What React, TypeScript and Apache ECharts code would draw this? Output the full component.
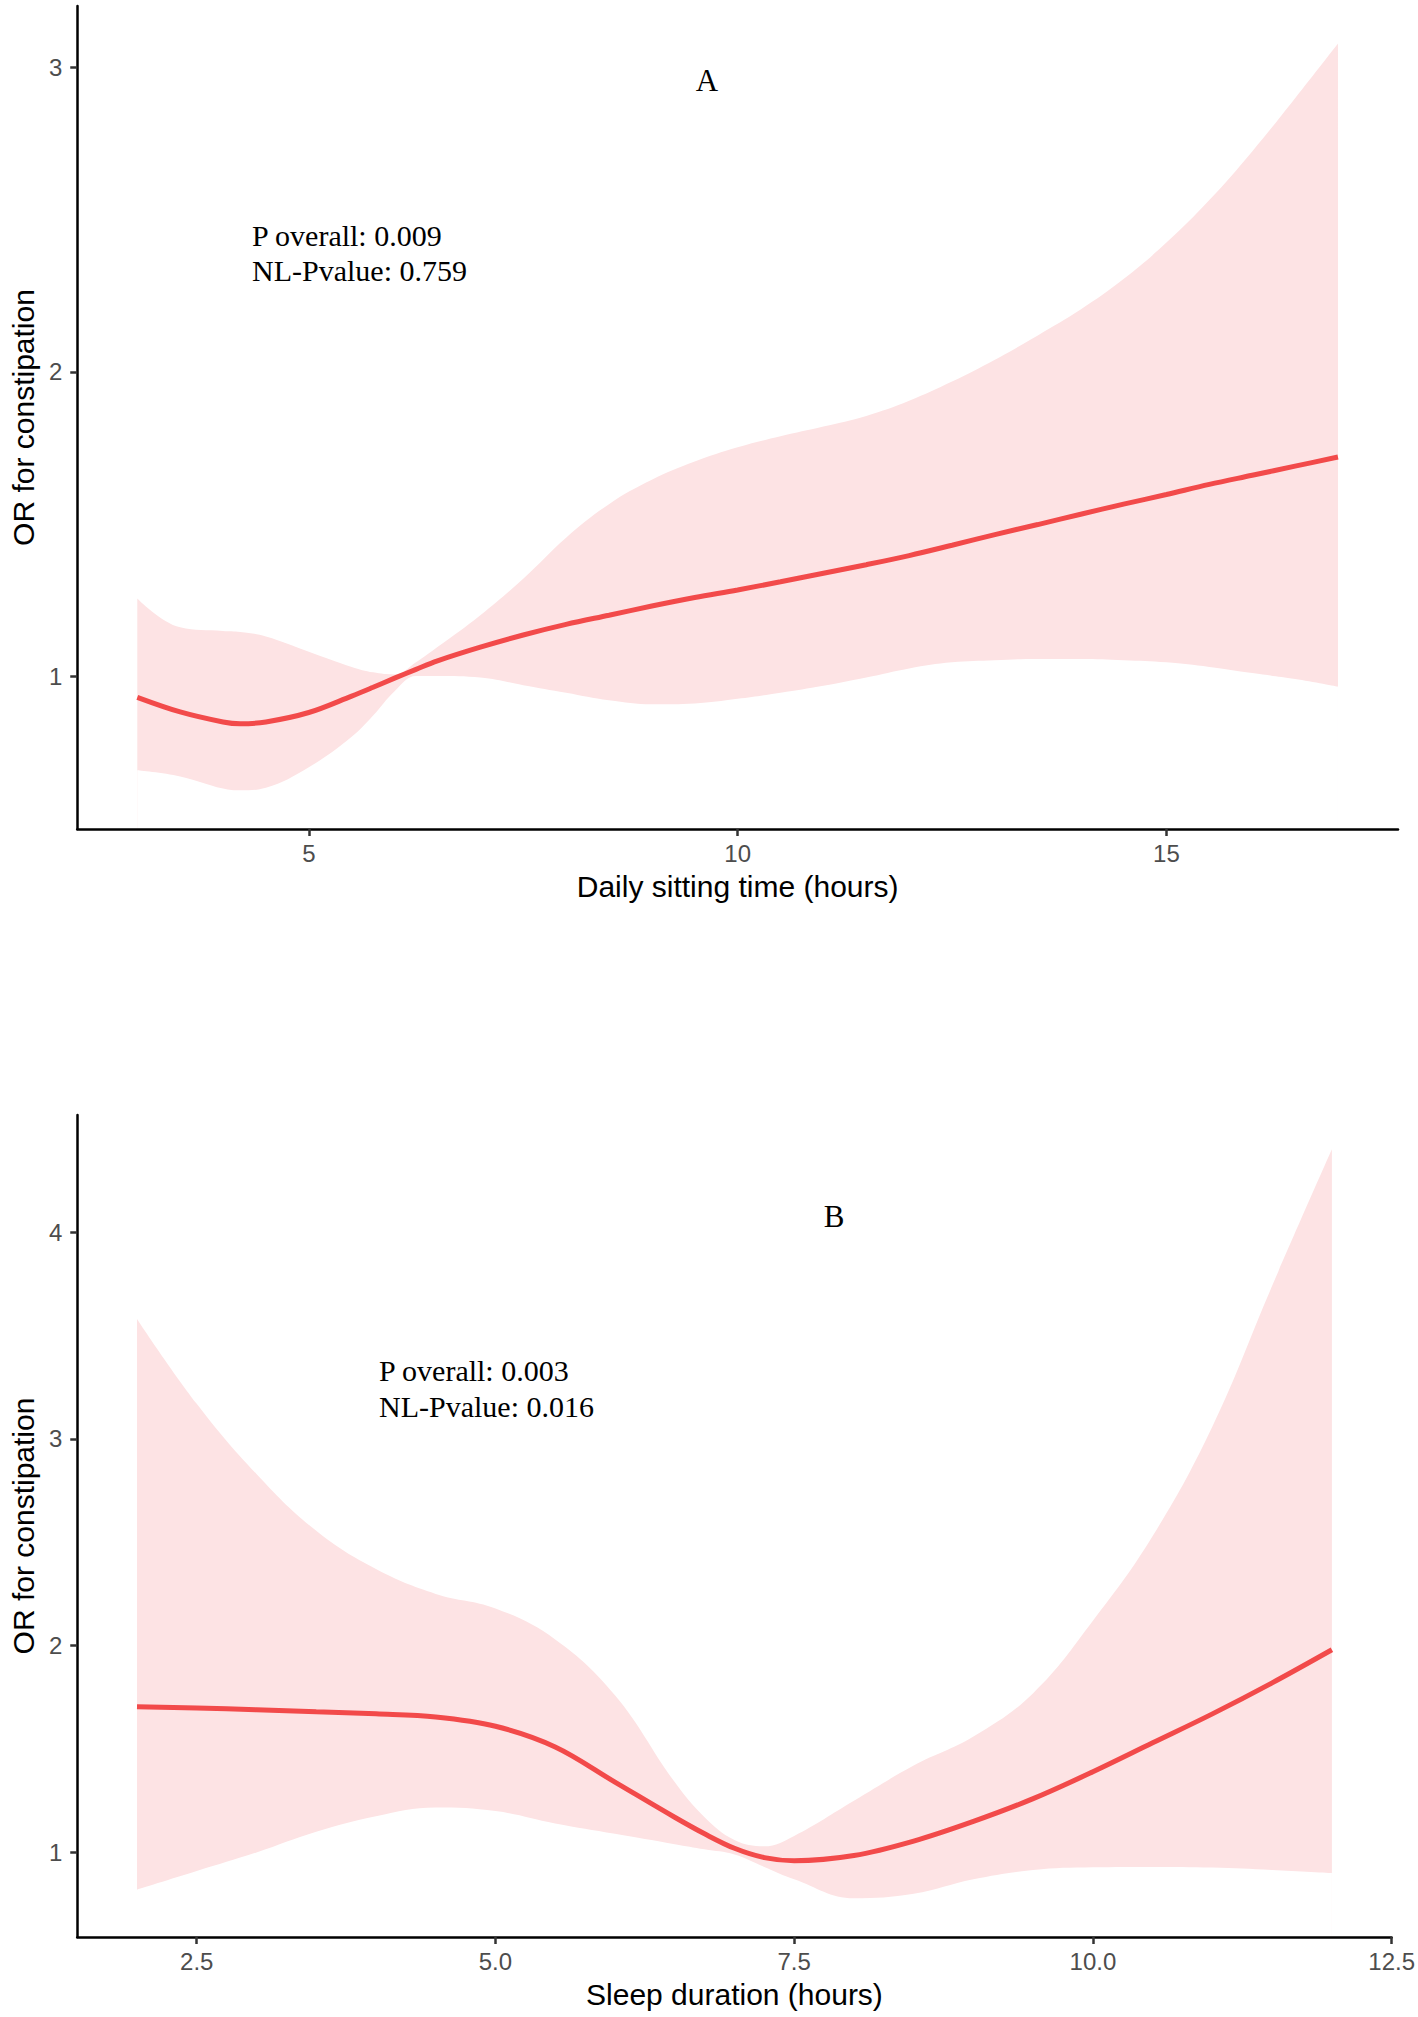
import React, { useEffect, useRef } from "react";
import * as echarts from "echarts";

// Panel A: daily sitting time
const sitX = [3, 3.5, 4, 4.2, 4.5, 5, 5.5, 5.75, 6, 6.25, 6.5, 7, 7.5, 8, 8.5, 9, 9.5, 10, 10.5, 11, 11.5, 12, 12.5, 13, 13.5, 14, 14.5, 15, 15.5, 16, 16.5, 17];
const sitOR = [0.93, 0.882, 0.849, 0.843, 0.849, 0.88, 0.934, 0.963, 0.993, 1.022, 1.05, 1.095, 1.135, 1.17, 1.2, 1.23, 1.258, 1.283, 1.31, 1.338, 1.366, 1.396, 1.43, 1.465, 1.498, 1.532, 1.565, 1.597, 1.63, 1.66, 1.69, 1.72];
const sitUpper = [1.255, 1.16, 1.148, 1.145, 1.13, 1.08, 1.03, 1.012, 1.005, 1.045, 1.095, 1.2, 1.32, 1.455, 1.565, 1.645, 1.705, 1.752, 1.788, 1.82, 1.855, 1.905, 1.968, 2.04, 2.12, 2.205, 2.305, 2.425, 2.565, 2.725, 2.9, 3.08];
const sitLower = [0.69, 0.67, 0.63, 0.624, 0.633, 0.7, 0.8, 0.87, 0.95, 1.0, 1.0, 0.995, 0.97, 0.945, 0.92, 0.907, 0.91, 0.925, 0.945, 0.968, 0.995, 1.025, 1.045, 1.052, 1.056, 1.056, 1.052, 1.045, 1.03, 1.01, 0.99, 0.965];
const sitTicksX = [5, 10, 15];
const sitTicksY = [1, 2, 3];

// Panel B: sleep duration
const sleepX = [2, 2.5, 3, 3.5, 4, 4.5, 5, 5.5, 6, 6.5, 6.75, 7, 7.25, 7.5, 8, 8.5, 9, 9.5, 10, 10.5, 11, 11.5, 12];
const sleepOR = [1.705, 1.698, 1.69, 1.68, 1.67, 1.655, 1.61, 1.51, 1.34, 1.17, 1.09, 1.02, 0.975, 0.96, 0.985, 1.055, 1.15, 1.26, 1.39, 1.53, 1.67, 1.82, 1.98];
const sleepUpper = [3.58, 3.17, 2.83, 2.555, 2.37, 2.25, 2.18, 2.03, 1.76, 1.34, 1.17, 1.06, 1.03, 1.08, 1.25, 1.42, 1.56, 1.77, 2.12, 2.53, 3.06, 3.74, 4.4];
const sleepLower = [0.82, 0.91, 1.0, 1.1, 1.175, 1.217, 1.2, 1.14, 1.09, 1.04, 1.015, 0.99, 0.93, 0.87, 0.778, 0.8, 0.87, 0.915, 0.928, 0.93, 0.927, 0.915, 0.9];
const sleepTicksX = [2.5, 5, 7.5, 10, 12.5];
const sleepTicksY = [1, 2, 3, 4];

const LINE_COLOR = "#F24A4A";
const BAND_COLOR = "#FDE3E4";
const SANS = "Liberation Sans";
const SERIF = "Liberation Serif";

function zip(xs: number[], ys: number[]) {
  return xs.map((x, i) => [x, ys[i]]);
}

// Confidence band: upper bound filled pink down to the axis, lower bound filled white down to the axis.
function bandSeries(xs: number[], lo: number[], hi: number[], idx: number) {
  return [
    {
      type: "line",
      xAxisIndex: idx,
      yAxisIndex: idx,
      data: zip(xs, hi),
      smooth: 0.4,
      symbol: "none",
      lineStyle: { width: 0, opacity: 0 },
      areaStyle: { color: BAND_COLOR, opacity: 1, origin: "start" },
      silent: true,
      z: 1,
    },
    {
      type: "line",
      xAxisIndex: idx,
      yAxisIndex: idx,
      data: zip(xs, lo),
      smooth: 0.4,
      symbol: "none",
      lineStyle: { width: 0, opacity: 0 },
      areaStyle: { color: "#FFFFFF", opacity: 1, origin: "start" },
      silent: true,
      z: 2,
    },
  ];
}

function lineSeries(xs: number[], ys: number[], idx: number) {
  return {
    type: "line",
    xAxisIndex: idx,
    yAxisIndex: idx,
    data: zip(xs, ys),
    smooth: 0.35,
    symbol: "none",
    lineStyle: { color: LINE_COLOR, width: 5 },
    silent: true,
    z: 3,
  };
}

function xAxisCfg(idx: number, min: number, max: number, ticks: number[], name: string, fmt: (v: number) => string) {
  return {
    type: "value",
    gridIndex: idx,
    min,
    max,
    z: 10,
    name,
    nameLocation: "middle",
    nameGap: 42,
    nameTextStyle: { fontSize: 30, color: "#000", fontFamily: SANS },
    axisLine: { show: true, onZero: false, lineStyle: { color: "#000", width: 2.5 } },
    axisTick: { show: true, length: 7, customValues: ticks, lineStyle: { color: "#333", width: 2.5 } },
    axisLabel: {
      show: true,
      customValues: ticks,
      margin: 12,
      fontSize: 24,
      color: "#4D4D4D",
      fontFamily: SANS,
      formatter: (v: number) => fmt(v),
    },
    splitLine: { show: false },
  };
}

function yAxisCfg(idx: number, min: number, max: number, ticks: number[]) {
  return {
    type: "value",
    gridIndex: idx,
    min,
    max,
    z: 10,
    name: "OR for constipation",
    nameLocation: "middle",
    nameGap: 34,
    nameTextStyle: { fontSize: 30, color: "#000", fontFamily: SANS },
    axisLine: { show: true, onZero: false, lineStyle: { color: "#000", width: 2.5 } },
    axisTick: { show: true, length: 7, customValues: ticks, lineStyle: { color: "#333", width: 2.5 } },
    axisLabel: {
      show: true,
      customValues: ticks,
      margin: 15,
      fontSize: 24,
      color: "#4D4D4D",
      fontFamily: SANS,
      formatter: (v: number) => String(v),
    },
    splitLine: { show: false },
  };
}

function serifText(text: string, x: number, y: number, size: number, align: string) {
  return {
    type: "text",
    x,
    y,
    z: 100,
    silent: true,
    style: {
      text,
      fontSize: size,
      fontFamily: SERIF,
      fill: "#000",
      align,
      verticalAlign: "middle",
    },
  };
}

export default function App() {
  const ref = useRef<HTMLDivElement>(null);

  useEffect(() => {
    if (!ref.current) return;
    const chart = echarts.init(ref.current, undefined, { renderer: "svg" });
    chart.setOption({
      animation: false,
      backgroundColor: "#fff",
      grid: [
        { left: 68, top: 6, width: 1330, height: 823, containLabel: false },
        { left: 68, top: 1115, width: 1333, height: 822, containLabel: false },
      ],
      xAxis: [
        xAxisCfg(0, 2.3, 17.7, sitTicksX, "Daily sitting time (hours)", (v) => String(v)),
        xAxisCfg(1, 1.5, 12.5, sleepTicksX, "Sleep duration (hours)", (v) => v.toFixed(1)),
      ],
      yAxis: [yAxisCfg(0, 0.497, 3.203, sitTicksY), yAxisCfg(1, 0.591, 4.566, sleepTicksY)],
      series: [
        ...bandSeries(sitX, sitLower, sitUpper, 0),
        lineSeries(sitX, sitOR, 0),
        ...bandSeries(sleepX, sleepLower, sleepUpper, 1),
        lineSeries(sleepX, sleepOR, 1),
      ],
      graphic: {
        z: 100,
        elements: [
          serifText("A", 707, 80, 31, "center"),
          serifText("P overall: 0.009", 252, 235, 30, "left"),
          serifText("NL-Pvalue: 0.759", 252, 270, 30, "left"),
          serifText("B", 834, 1216, 31, "center"),
          serifText("P overall: 0.003", 379, 1370, 30, "left"),
          serifText("NL-Pvalue: 0.016", 379, 1406, 30, "left"),
        ],
      },
    });
    return () => chart.dispose();
  }, []);

  return (
    <div
      ref={ref}
      style={{ position: "absolute", left: 0, top: 0, width: 1418, height: 2017, background: "#fff" }}
    />
  );
}
